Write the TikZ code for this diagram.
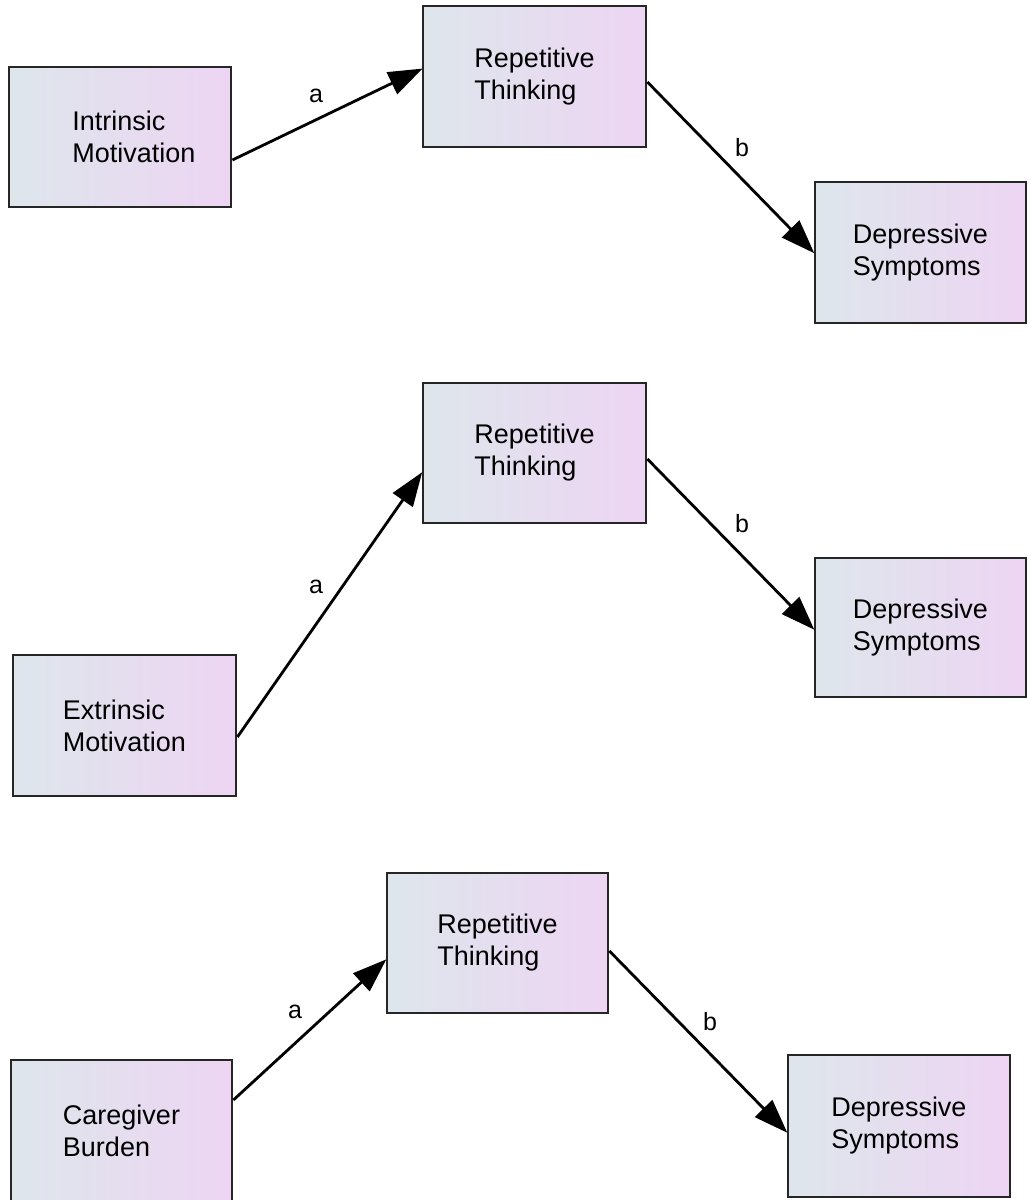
\documentclass[tikz,border=0pt]{standalone}
\usepackage{fontspec}
\setmainfont{Liberation Sans}
\usetikzlibrary{arrows.meta,positioning}

\definecolor{boxleft}{HTML}{DEE6EC}
\definecolor{boxright}{HTML}{EDD5F3}
\definecolor{boxline}{HTML}{262626}

\tikzset{
    varbox/.style={draw=boxline, line width=2.8pt, left color=boxleft, right color=boxright, minimum width=222pt, minimum height=140pt, align=left, font=\fontsize{27}{32}\selectfont, inner sep=0pt},
    pathline/.style={-{Triangle[length=34pt,width=24pt]}, line width=2.8pt, shorten >=-1pt},
    lbl/.style={font=\fontsize{25}{28}\selectfont, inner sep=0pt}
}

\begin{document}
\begin{tikzpicture}[x=1pt,y=1pt]
    \useasboundingbox (0,0) rectangle (1028,-1200);

    % Top model
    \node[varbox] (intrinsic) at (120,-137) {\hspace*{28pt}Intrinsic\\\hspace*{28pt}Motivation};
    \node[varbox, minimum width=223pt, minimum height=141pt] (rt1) at (534.5,-76.5) {Repetitive\\Thinking};
    \node[varbox, minimum width=211pt, minimum height=141pt] (ds1) at (920.5,-252.5) {Depressive\\Symptoms};

    % Middle model
    \node[varbox, minimum width=223pt] (rt2) at (534.5,-453) {Repetitive\\Thinking};
    \node[varbox, minimum width=211pt, minimum height=139pt] (ds2) at (920.5,-627.5) {Depressive\\Symptoms};
    \node[varbox, minimum width=223pt, minimum height=141pt] (extrinsic) at (124.5,-725.5) {Extrinsic\\Motivation};

    % Bottom model
    \node[varbox, minimum width=221pt] (rt3) at (497.5,-943) {Repetitive\\Thinking};
    \node[varbox, minimum height=142pt] (ds3) at (899,-1126) {Depressive\\Symptoms};
    \node[varbox, minimum width=221pt, minimum height=142pt] (burden) at (121.5,-1131) {Caregiver\\Burden};

    % Paths
    \draw[pathline] ([yshift=-23pt]intrinsic.east) -- ([yshift=7.5pt]rt1.west);
    \draw[pathline] ([yshift=-5.5pt]rt1.east) -- (ds1.west);
    \draw[pathline] ([yshift=-11.5pt]extrinsic.east) -- ([yshift=-20pt]rt2.west);
    \draw[pathline] ([yshift=-6pt]rt2.east) -- ([yshift=-1.5pt]ds2.west);
    \draw[pathline] ([yshift=31pt]burden.east) -- ([yshift=-17pt]rt3.west);
    \draw[pathline] ([yshift=-8pt]rt3.east) -- ([yshift=-6pt]ds3.west);

    % Path labels
    \node[lbl] (a1) at (316,-96) {a};
    \node[lbl] (b1) at (742,-148) {b};
    \node[lbl] (a2) at (316,-587) {a};
    \node[lbl] (b2) at (742,-524) {b};
    \node[lbl] (a3) at (295,-1012) {a};
    \node[lbl] (b3) at (710,-1022) {b};
\end{tikzpicture}
\end{document}
